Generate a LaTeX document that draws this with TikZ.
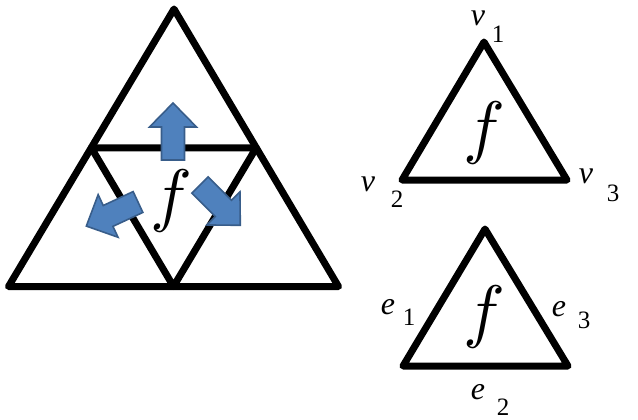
\documentclass[tikz,border=0pt]{standalone}
\usepackage{fontspec}
\setmainfont{Liberation Serif}
\newfontfamily\lmmath{Latin Modern Math}
\usetikzlibrary{calc}
\definecolor{arrfill}{HTML}{4F81BD}
\definecolor{arrline}{HTML}{385D8A}
\tikzset{
  tri/.style={draw=black, line width=7pt, line join=round, line cap=round},
  bluearrow/.style={fill=arrfill, draw=arrline, line width=1.6pt, line join=miter},
  varlbl/.style={inner sep=0pt, font=\fontsize{32}{32}\selectfont\itshape},
  sublbl/.style={inner sep=0pt, font=\fontsize{25}{25}\selectfont},
  flbl/.style={inner sep=0pt, font=\fontsize{70}{70}\selectfont\lmmath}
}
\newcommand{\blockarrow}[2]{%
  \begin{scope}[shift={#1}, rotate=#2]
    \draw[bluearrow] (0,-11.5) -- (33,-11.5) -- (33,-23.5) -- (57,0) -- (33,23.5) -- (33,11.5) -- (0,11.5) -- cycle;
  \end{scope}}
\begin{document}
\begin{tikzpicture}[x=1pt, y=-1pt]
\useasboundingbox (0,0) rectangle (638,420);
% big subdivided triangle
\coordinate (A) at (174,9);
\coordinate (B) at (8.5,286.5);
\coordinate (C) at (338.5,286.5);
\coordinate (mAB) at ($(A)!0.5!(B)$);
\coordinate (mAC) at ($(A)!0.5!(C)$);
\coordinate (mBC) at ($(B)!0.5!(C)$);
\draw[tri] (A) -- (B) -- (C) -- cycle;
\draw[tri] (mAB) -- (mAC) -- (mBC) -- cycle;
% arrows
\blockarrow{(173,160)}{90}
\blockarrow{(200,185)}{-45}
\blockarrow{(138,202)}{205}
\node[flbl] (fL) at (168,201) {𝑓};
% top right triangle
\coordinate (v1c) at (484,42);
\coordinate (v2c) at (402,180);
\coordinate (v3c) at (567,180);
\draw[tri] (v1c) -- (v2c) -- (v3c) -- cycle;
\node[flbl] (fV) at (481,133) {𝑓};
\node[varlbl] (v1) at (478,18) {v};
\node[sublbl] (v1s) at (498,34) {1};
\node[varlbl] (v2) at (368,184) {v};
\node[sublbl] (v2s) at (397,199) {2};
\node[varlbl] (v3) at (586,176) {v};
\node[sublbl] (v3s) at (613,193) {3};
% bottom right triangle
\coordinate (e1c) at (485,229);
\coordinate (e2c) at (403,366);
\coordinate (e3c) at (568,366);
\draw[tri] (e1c) -- (e2c) -- (e3c) -- cycle;
\node[flbl] (fE) at (481,317) {𝑓};
\node[varlbl] (e1) at (388,307) {e};
\node[sublbl] (e1s) at (409,317) {1};
\node[varlbl] (e3) at (559,309) {e};
\node[sublbl] (e3s) at (584,320) {3};
\node[varlbl] (e2) at (478,392) {e};
\node[sublbl] (e2s) at (503,407) {2};
\end{tikzpicture}
\end{document}
